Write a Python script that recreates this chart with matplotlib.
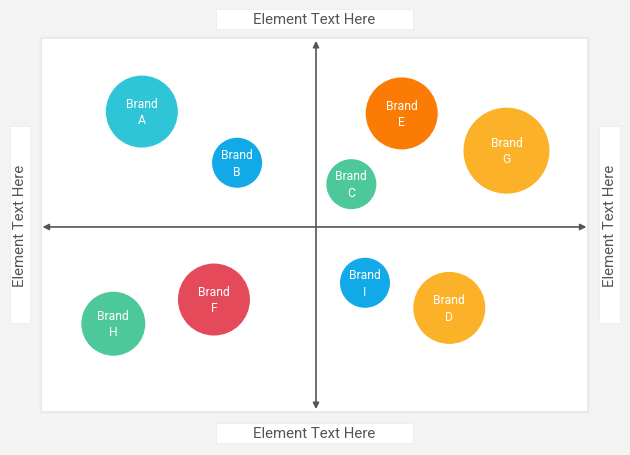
import matplotlib
matplotlib.use("Agg")
import matplotlib.pyplot as plt
from matplotlib.patches import Rectangle

plt.rcParams['font.family'] = ['Roboto', 'DejaVu Sans']

brands = ["A", "B", "C", "E", "G", "F", "H", "I", "D"]
x_vals = [-6.4, -2.9, 1.3, 3.15, 7.0, -3.75, -7.45, 1.8, 4.9]
y_vals = [6.2, 3.45, 2.3, 6.1, 4.1, -3.9, -5.2, -3.0, -4.35]
sizes = [36, 25, 25, 36, 43, 36, 32, 25, 36]
colors = ["#2ec5d6", "#12a9e8", "#4dc89b", "#fc7b04", "#fbb228",
          "#e44a59", "#4dc89b", "#12a9e8", "#fbb228"]
axis_label = "Element Text Here"

W, H = 630, 456
fig = plt.figure(figsize=(W / 100, H / 100), dpi=100)
fig.patch.set_facecolor("#f3f3f3")

def fx(px):
    return px / W

def fy(py):
    return 1 - py / H

# panel shadow
for d in [3, 2, 1]:
    fig.patches.append(Rectangle((fx(42 - d), fy(412 + d)), (545 + 2 * d) / W, (372 + 2 * d) / H,
                                 transform=fig.transFigure, facecolor="black", alpha=0.015,
                                 edgecolor="none", zorder=0))

ax = fig.add_axes([fx(42), fy(412), 545 / W, 372 / H])
ax.set_zorder(3)
ax.set_facecolor("white")
ax.set_xlim(-10.07, 9.96)
ax.set_ylim(-9.89, 10.1)
for s in ax.spines.values():
    s.set_visible(False)
ax.set_xticks([])
ax.set_yticks([])

arrow_kw = dict(arrowstyle="<|-|>", color="#555555", lw=1.2, mutation_scale=9,
                shrinkA=0, shrinkB=0)
xl = ax.get_xlim()
yl = ax.get_ylim()
ax.annotate("", xy=(xl[0] + 0.02, 0), xytext=(xl[1] - 0.02, 0), arrowprops=arrow_kw, zorder=1)
ax.annotate("", xy=(0, yl[0] + 0.1), xytext=(0, yl[1] - 0.1), arrowprops=arrow_kw, zorder=1)

pt_per_px = 72 / 100
for b, x, y, r, c in zip(brands, x_vals, y_vals, sizes, colors):
    ax.scatter([x], [y], s=(2 * r * pt_per_px) ** 2, color=c, edgecolors="none", zorder=3)
    ax.text(x, y, "Brand\n" + b, color="white", fontsize=8.7, ha="center", va="center",
            linespacing=1.35, zorder=4)

# label boxes
def box(x0, y0, w, h, rot):
    fig.patches.append(Rectangle((fx(x0), fy(y0 + h)), w / W, h / H, transform=fig.transFigure,
                                 facecolor="white", edgecolor="#ececec", lw=0.6, zorder=1))
    fig.text(fx(x0 + w / 2), fy(y0 + h / 2), axis_label, rotation=rot, ha="center", va="center",
             fontsize=10.8, color="#555555", zorder=2)

box(216, 10, 197, 20, 0)
box(216, 424, 197, 20, 0)
box(10, 127, 20, 197, 90)
box(599, 127, 21, 197, 90)

fig.savefig("out.png", dpi=100, facecolor=fig.get_facecolor())
